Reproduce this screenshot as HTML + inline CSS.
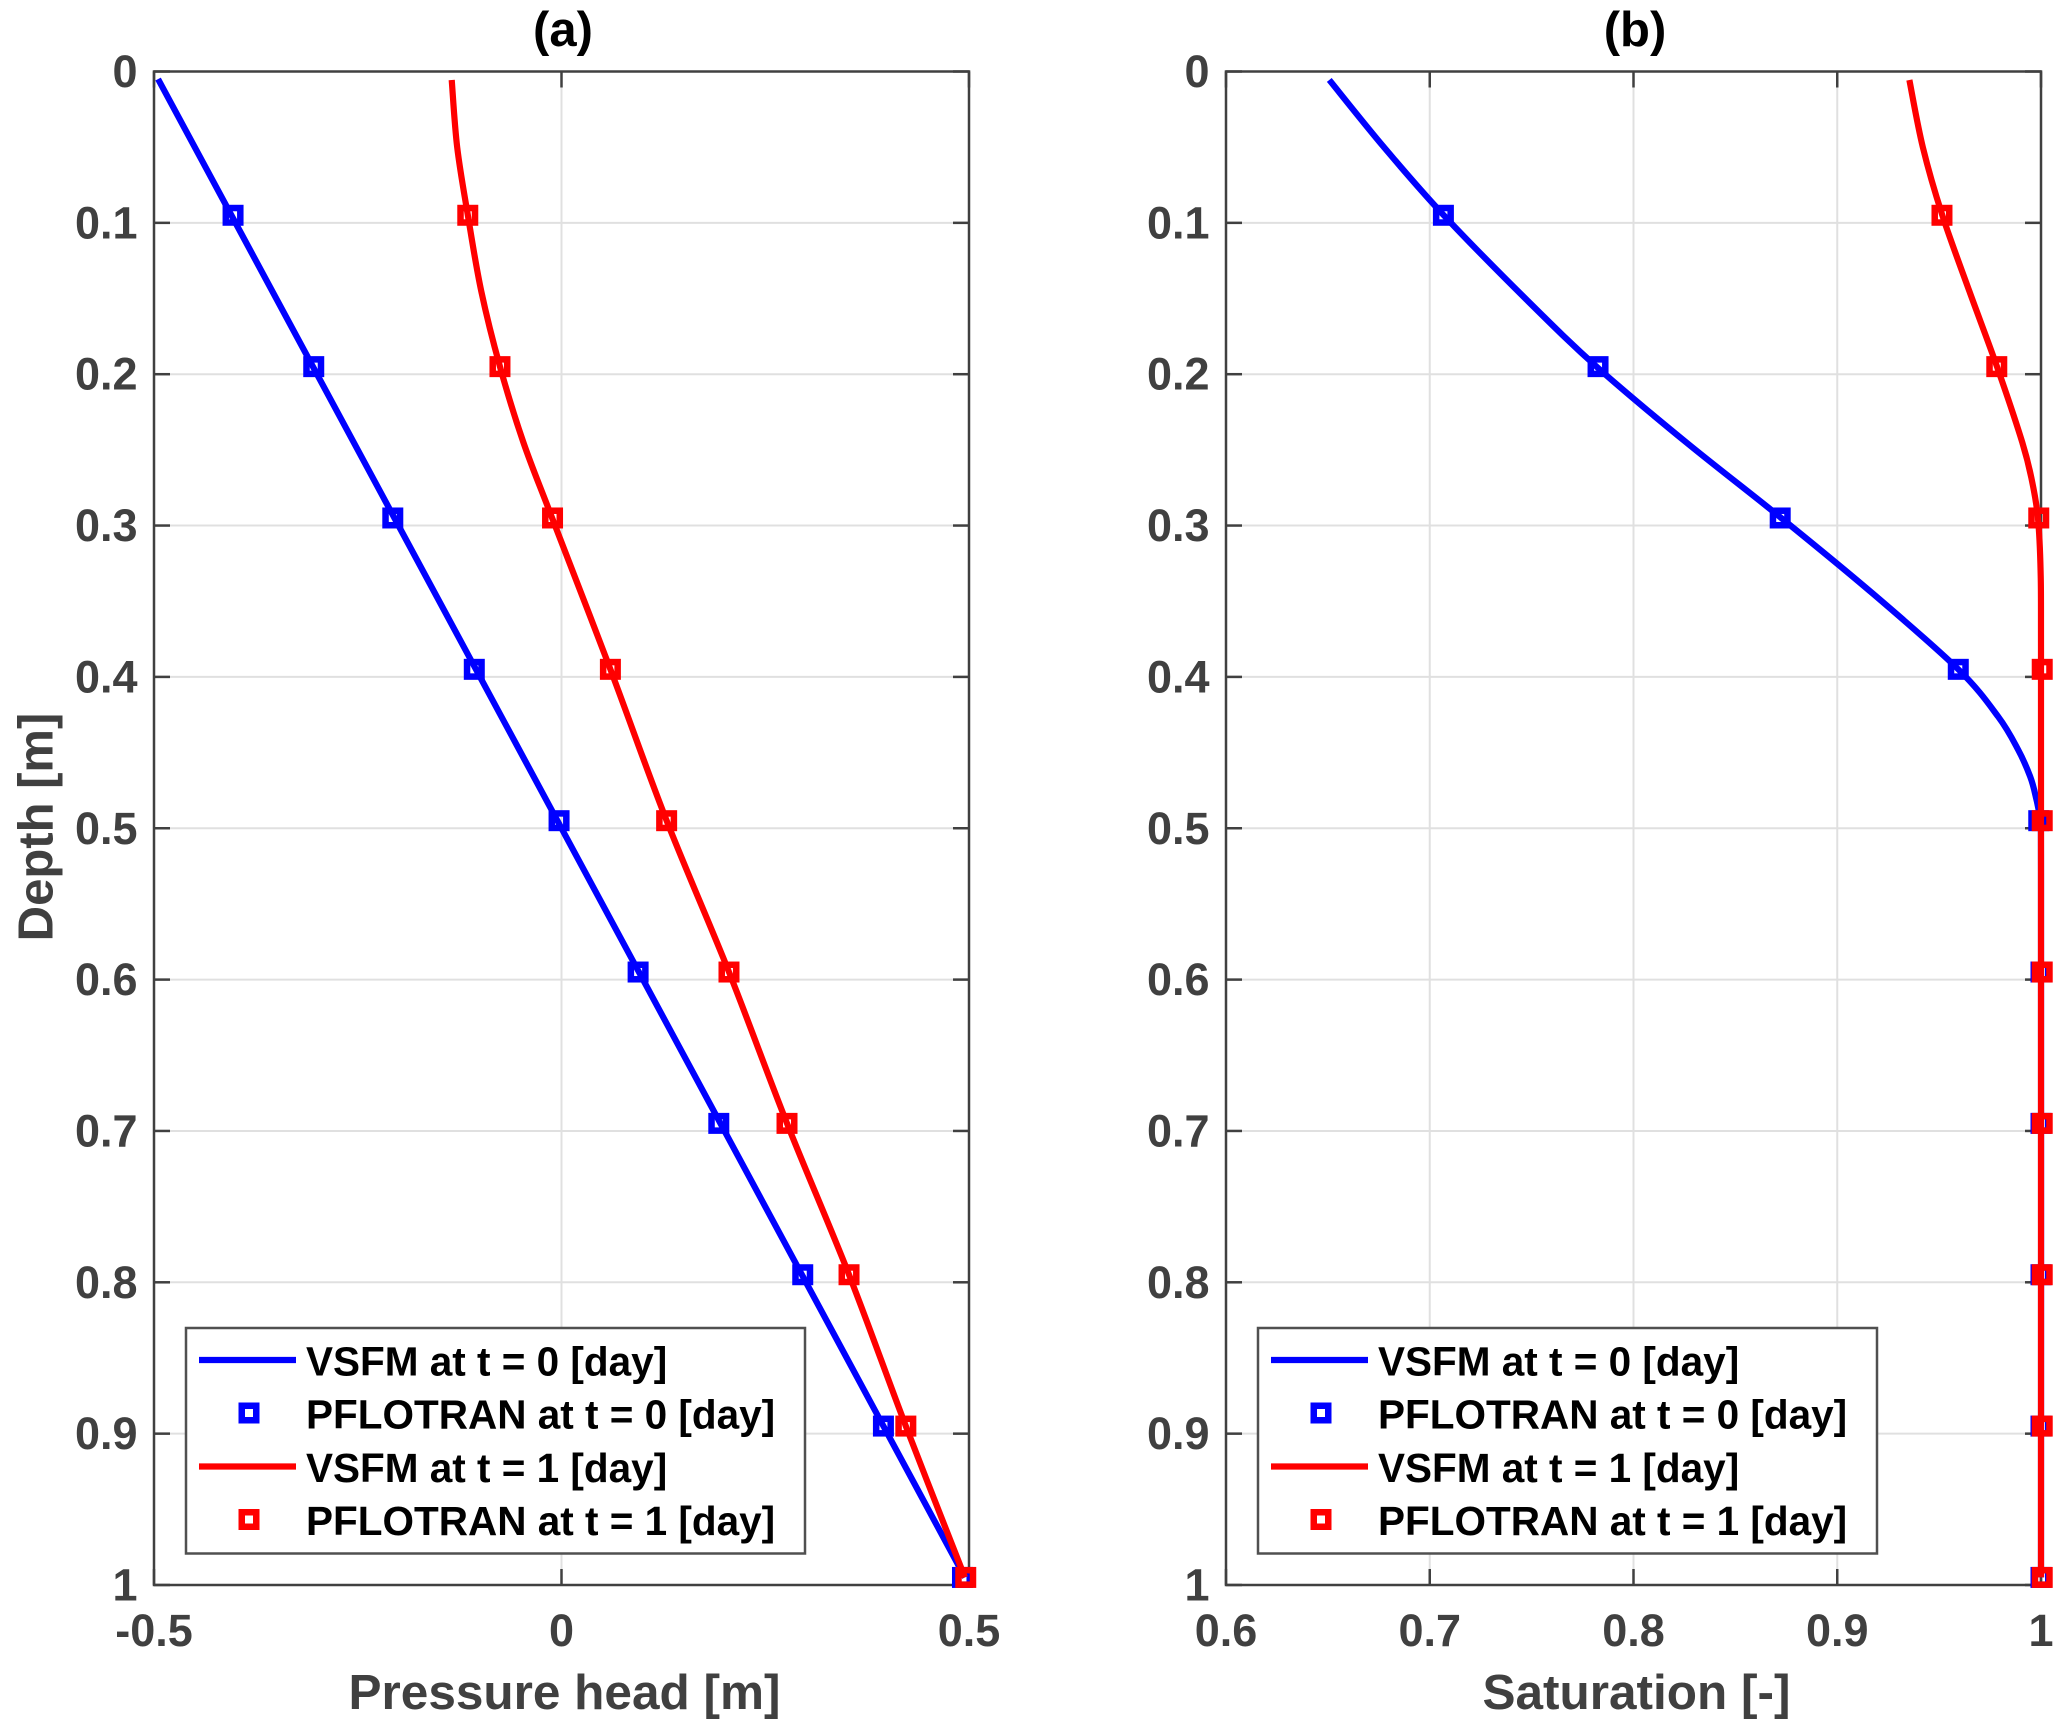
<!DOCTYPE html>
<html lang="en">
<head>
<meta charset="utf-8">
<title>Pressure head and saturation profiles</title>
<style>
html,body{margin:0;padding:0;background:#fff;width:2067px;height:1730px;overflow:hidden}
svg{display:block;font-family:"Liberation Sans",Arial,sans-serif;font-weight:bold}
</style>
</head>
<body>
<svg id="chart" xmlns="http://www.w3.org/2000/svg" width="2067" height="1730" viewBox="0 0 2067 1730"></svg>
<script>
// Depth axis
var depthTicks = [0, 0.1, 0.2, 0.3, 0.4, 0.5, 0.6, 0.7, 0.8, 0.9, 1];
var depthTickLabels = ['0', '0.1', '0.2', '0.3', '0.4', '0.5', '0.6', '0.7', '0.8', '0.9', '1'];
// Horizontal axes
var pressureTicks = [-0.5, 0, 0.5];
var pressureTickLabels = ['-0.5', '0', '0.5'];
var saturationTicks = [0.6, 0.7, 0.8, 0.9, 1];
var saturationTickLabels = ['0.6', '0.7', '0.8', '0.9', '1'];
// PFLOTRAN sample depths
var markerDepths = [0.095, 0.195, 0.295, 0.395, 0.495, 0.595, 0.695, 0.795, 0.895, 0.995];
// Panel (a): pressure head
var pressureVsfm0Depths = [0.005, 0.095, 0.195, 0.295, 0.395, 0.495, 0.595, 0.695, 0.795, 0.895, 0.995];
var pressureVsfm0Values = [-0.495, -0.405, -0.305, -0.205, -0.105, -0.005, 0.095, 0.195, 0.295, 0.395, 0.495];
var pressurePflotran0Values = [-0.403, -0.304, -0.207, -0.107, -0.003, 0.094, 0.193, 0.296, 0.395, 0.492];
var pressureVsfm1Depths = [0.0056, 0.05, 0.0947, 0.145, 0.195, 0.245, 0.295, 0.395, 0.495, 0.595, 0.695, 0.795, 0.895, 0.995];
var pressureVsfm1Values = [-0.1347, -0.128, -0.115, -0.0985, -0.0755, -0.0468, -0.0115, 0.06, 0.129, 0.2055, 0.2767, 0.3528, 0.4225, 0.495];
var pressurePflotran1Values = [-0.115, -0.0755, -0.011, 0.06, 0.129, 0.2055, 0.2767, 0.3528, 0.4225, 0.496];
// Panel (b): saturation
var saturationVsfm0Depths = [0.0056, 0.05, 0.0947, 0.1509, 0.196, 0.2454, 0.2952, 0.345, 0.395, 0.4263, 0.4482, 0.4659, 0.479, 0.495, 0.53, 0.995];
var saturationVsfm0Values = [0.6507, 0.6775, 0.7067, 0.7476, 0.7827, 0.8262, 0.8727, 0.9175, 0.9594, 0.979, 0.9888, 0.9947, 0.9974, 0.9995, 1, 1];
var saturationPflotran0Values = [0.7067, 0.7826, 0.872, 0.9594, 0.9989, 1, 1, 1, 1, 1];
var saturationVsfm1Depths = [0.0056, 0.05, 0.0947, 0.145, 0.195, 0.245, 0.27, 0.295, 0.33, 0.38, 0.6, 0.995];
var saturationVsfm1Values = [0.9354, 0.942, 0.9515, 0.9648, 0.9784, 0.9908, 0.9955, 0.9985, 0.9998, 1, 1, 1];
var saturationPflotran1Values = [0.9514, 0.9783, 0.9989, 1.0006, 1.0006, 1.0006, 1.0006, 1.0006, 1.0006, 1.0006];
// Legend text
var legendLabels = ['VSFM at t = 0 [day]', 'PFLOTRAN at t = 0 [day]', 'VSFM at t = 1 [day]', 'PFLOTRAN at t = 1 [day]'];

var NS = 'http://www.w3.org/2000/svg';
var svg = document.getElementById('chart');
var AXIS = '#404040', GRID = '#e0e0e0', TOP = 71.5, BOTTOM = 1585, WIDTH = 815;

function el(tag, attrs, parent, text) {
  var e = document.createElementNS(NS, tag);
  for (var k in attrs) e.setAttribute(k, attrs[k]);
  if (text !== undefined) e.textContent = text;
  parent.appendChild(e);
  return e;
}

function smoothPath(pts) {
  var d = 'M' + pts[0][0].toFixed(2) + ' ' + pts[0][1].toFixed(2);
  for (var i = 0; i < pts.length - 1; i++) {
    var p0 = pts[Math.max(i - 1, 0)], p1 = pts[i], p2 = pts[i + 1], p3 = pts[Math.min(i + 2, pts.length - 1)];
    var c1x = p1[0] + (p2[0] - p0[0]) / 6, c1y = p1[1] + (p2[1] - p0[1]) / 6;
    var c2x = p2[0] - (p3[0] - p1[0]) / 6, c2y = p2[1] - (p3[1] - p1[1]) / 6;
    d += 'C' + c1x.toFixed(2) + ' ' + c1y.toFixed(2) + ' ' + c2x.toFixed(2) + ' ' + c2y.toFixed(2) + ' ' + p2[0].toFixed(2) + ' ' + p2[1].toFixed(2);
  }
  return d;
}

function drawPanel(p) {
  var left = p.left, right = left + WIDTH;
  var xs = function (v) { return left + (v - p.xMin) / (p.xMax - p.xMin) * WIDTH; };
  var ys = function (d) { return TOP + d * (BOTTOM - TOP); };
  var g = el('g', {}, svg);
  
  

  var bg = el('rect', {x: left, y: TOP, width: WIDTH, height: BOTTOM - TOP, fill: '#fff'}, g);
  
  

  depthTicks.forEach(function (d) {
    var gl = el('line', {x1: left, x2: right, y1: ys(d), y2: ys(d), stroke: GRID, 'stroke-width': 2}, g);
    
    
  });
  p.xTicks.forEach(function (v) {
    var gl = el('line', {x1: xs(v), x2: xs(v), y1: TOP, y2: BOTTOM, stroke: GRID, 'stroke-width': 2}, g);
    
    
  });

  var frame = el('rect', {x: left, y: TOP, width: WIDTH, height: BOTTOM - TOP, fill: 'none', stroke: AXIS, 'stroke-width': 2.5}, g);
  
  

  depthTicks.forEach(function (d, i) {
    var y = ys(d);
    var t1 = el('line', {x1: left, x2: left + 16, y1: y, y2: y, stroke: AXIS, 'stroke-width': 2.5}, g);
    
    
    var t2 = el('line', {x1: right - 16, x2: right, y1: y, y2: y, stroke: AXIS, 'stroke-width': 2.5}, g);
    
    
    var lab = el('text', {x: left - 16.5, y: y + 15.5, 'text-anchor': 'end', 'font-size': 45, fill: AXIS}, g, depthTickLabels[i]);
    
    
  });
  p.xTicks.forEach(function (v, i) {
    var x = xs(v);
    var t1 = el('line', {x1: x, x2: x, y1: BOTTOM - 16, y2: BOTTOM, stroke: AXIS, 'stroke-width': 2.5}, g);
    
    
    var t2 = el('line', {x1: x, x2: x, y1: TOP, y2: TOP + 16, stroke: AXIS, 'stroke-width': 2.5}, g);
    
    
    var lab = el('text', {x: x, y: 1646, 'text-anchor': 'middle', 'font-size': 45, fill: AXIS}, g, p.xTickLabels[i]);
    
    
  });

  function line(depths, values, color, name) {
    var pts = depths.map(function (d, i) { return [xs(values[i]), ys(d)]; });
    var l = el('path', {d: smoothPath(pts), fill: 'none', stroke: color, 'stroke-width': 6.2, 'stroke-linejoin': 'round'}, g);
    
    
  }
  function markers(values, color, name) {
    values.forEach(function (v, i) {
      var m = el('rect', {x: xs(v) - 7.25, y: ys(markerDepths[i]) - 7.25, width: 14.5, height: 14.5, fill: 'none', stroke: color, 'stroke-width': 6.5}, g);
      
      
    });
  }
  line(p.d0, p.v0, '#0000ff', 'vsfm-t0-line');
  markers(p.m0, '#0000ff', 'pflotran-t0-marker');
  line(p.d1, p.v1, '#ff0000', 'vsfm-t1-line');
  markers(p.m1, '#ff0000', 'pflotran-t1-marker');

  var title = el('text', {x: left + WIDTH / 2 + 1.5, y: 46, 'text-anchor': 'middle', 'font-size': 49, fill: '#000'}, g, p.title);
  
  
  var xl = el('text', {x: left + WIDTH / 2 + 3, y: 1709, 'text-anchor': 'middle', 'font-size': 49.5, fill: AXIS}, g, p.xLabel);
  
  

  // Legend
  var lg = el('g', {}, g);
  
  
  var off = left - 154;
  var box = el('rect', {x: 186 + off, y: 1328, width: 619, height: 225.5, fill: '#fff', stroke: '#505050', 'stroke-width': 2.5}, lg);
  
  
  var rows = [1360, 1413, 1466.5, 1519.5];
  var colors = ['#0000ff', '#0000ff', '#ff0000', '#ff0000'];
  legendLabels.forEach(function (txt, i) {
    var sample;
    if (i % 2 === 0) {
      sample = el('line', {x1: 199 + off, x2: 296 + off, y1: rows[i], y2: rows[i], stroke: colors[i], 'stroke-width': 6.2}, lg);
    } else {
      sample = el('rect', {x: 249 + off - 7.25, y: rows[i] - 7.25, width: 14.5, height: 14.5, fill: 'none', stroke: colors[i], 'stroke-width': 6.5}, lg);
    }
    
    
    var t = el('text', {x: 306 + off, y: rows[i] + 15.5, 'font-size': 40.5, fill: '#000'}, lg, txt);
    
    
  });
}

drawPanel({
  name: 'pressure-head-panel', left: 154, xMin: -0.5, xMax: 0.5,
  xTicks: pressureTicks, xTickLabels: pressureTickLabels,
  d0: pressureVsfm0Depths, v0: pressureVsfm0Values, m0: pressurePflotran0Values,
  d1: pressureVsfm1Depths, v1: pressureVsfm1Values, m1: pressurePflotran1Values,
  title: '(a)', xLabel: 'Pressure head [m]'
});
drawPanel({
  name: 'saturation-panel', left: 1226, xMin: 0.6, xMax: 1,
  xTicks: saturationTicks, xTickLabels: saturationTickLabels,
  d0: saturationVsfm0Depths, v0: saturationVsfm0Values, m0: saturationPflotran0Values,
  d1: saturationVsfm1Depths, v1: saturationVsfm1Values, m1: saturationPflotran1Values,
  title: '(b)', xLabel: 'Saturation [-]'
});

var yLabel = el('text', {transform: 'translate(52.5,827) rotate(-90)', 'text-anchor': 'middle', 'font-size': 49, fill: AXIS}, svg, 'Depth [m]');


</script>
</body>
</html>
